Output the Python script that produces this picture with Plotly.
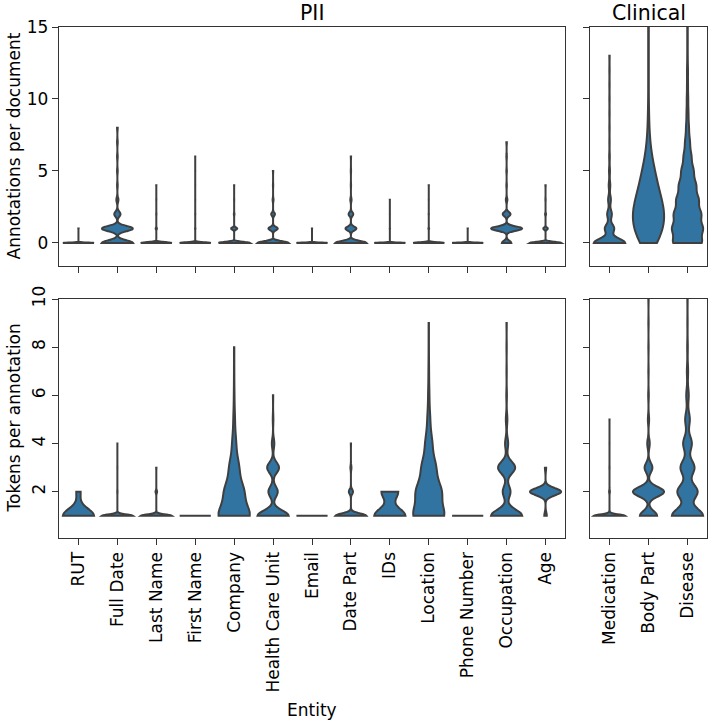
import numpy as np
import plotly.graph_objects as go

# ---------------- data ----------------
pii_entities = ["RUT", "Full Date", "Last Name", "First Name", "Company",
                "Health Care Unit", "Email", "Date Part", "IDs", "Location",
                "Phone Number", "Occupation", "Age"]
clin_entities = ["Medication", "Body Part", "Disease"]

# Annotations per document: number of documents with 0, 1, 2, ... annotations
ann_rut = [990, 10]
ann_full_date = [45, 45, 9, 3, 1, 1, 1, 1, 1]
ann_last_name = [200, 8, 2, 1, 1]
ann_first_name = [300, 4, 2, 1, 1, 1, 1]
ann_company = [200, 40, 4, 1, 1]
ann_hcu = [100, 30, 12, 3, 1, 1]
ann_email = [300, 2]
ann_date_part = [100, 35, 15, 4, 1, 1, 1]
ann_ids = [300, 3, 1, 1]
ann_location = [200, 5, 2, 1, 1]
ann_phone = [300, 2]
ann_occupation = [18, 60, 15, 3, 1, 1, 1, 1]
ann_age = [100, 15, 3, 1, 1]
ann_medication = [100, 30, 15, 9, 5, 3, 2, 1, 1, 1, 1, 1, 1, 1]
ann_body_part = [30, 50, 55, 45, 32, 22, 12, 6, 3, 2, 1, 1, 1, 1, 1, 1, 1, 1, 1]
ann_disease = [60, 62, 55, 45, 35, 25, 16, 10, 6, 4, 3, 2, 2, 1, 1, 1, 1, 1, 1, 1, 1]

# Tokens per annotation: number of annotations with 1, 2, 3, ... tokens
tok_rut = [88, 12]
tok_full_date = [500, 5, 2, 1]
tok_last_name = [200, 10, 2]
tok_first_name = [100]
tok_company = [100, 60, 30, 12, 5, 2, 1, 1]
tok_hcu = [100, 30, 38, 8, 2, 1]
tok_email = [100]
tok_date_part = [150, 20, 5, 1]
tok_ids = [65, 35]
tok_location = [100, 80, 45, 22, 9, 4, 2, 1, 1]
tok_phone = [100]
tok_occupation = [100, 25, 55, 10, 5, 2, 1, 1, 1]
tok_age = [8, 100, 4]
tok_medication = [300, 8, 2, 1, 1]
tok_body_part = [55, 100, 25, 8, 4, 2, 1, 1, 1, 1, 1, 1]
tok_disease = [100, 65, 45, 28, 15, 8, 4, 2, 1, 1, 1, 1, 1, 1]

ann_pii = [ann_rut, ann_full_date, ann_last_name, ann_first_name, ann_company,
           ann_hcu, ann_email, ann_date_part, ann_ids, ann_location, ann_phone,
           ann_occupation, ann_age]
ann_clin = [ann_medication, ann_body_part, ann_disease]
tok_pii = [tok_rut, tok_full_date, tok_last_name, tok_first_name, tok_company,
           tok_hcu, tok_email, tok_date_part, tok_ids, tok_location, tok_phone,
           tok_occupation, tok_age]
tok_clin = [tok_medication, tok_body_part, tok_disease]

# estimated KDE bandwidths
ann_pii_bw = [0.03, 0.18, 0.06, 0.05, 0.08, 0.12, 0.03, 0.14, 0.03, 0.05, 0.03, 0.15, 0.08]
ann_clin_bw = [0.3, 0.7, 0.45]
tok_pii_bw = [0.3, 0.06, 0.06, 0.1, 0.45, 0.22, 0.1, 0.1, 0.3, 0.45, 0.1, 0.25, 0.15]
tok_clin_bw = [0.06, 0.2, 0.3]

ann_ticks = [0, 5, 10, 15]
tok_ticks = [2, 4, 6, 8, 10]

# ---------------- style ----------------
FILL = "#3274a1"
EDGE = "#3f3f3f"
AX = "#333333"
FONT = "DejaVu Sans"
W, H = 708, 722


def expand(counts, start):
    vals = np.arange(start, start + len(counts))
    return np.repeat(vals, counts)


fig = go.Figure()


def add_violins(counts_list, bws, start, xa, ya):
    for i, (c, bw) in enumerate(zip(counts_list, bws)):
        y = expand(c, start)
        kw = {}
        if len(c) > 1:
            kw["bandwidth"] = bw
        fig.add_trace(go.Violin(
            x0=i, y=y, xaxis=xa, yaxis=ya, width=0.8,
            spanmode="hard", scalemode="width", points=False,
            fillcolor=FILL, line=dict(color=EDGE, width=2),
            box=dict(visible=False), meanline=dict(visible=False),
            opacity=1, showlegend=False, hoverinfo="y", **kw))


add_violins(ann_pii, ann_pii_bw, 0, "x", "y")
add_violins(ann_clin, ann_clin_bw, 0, "x2", "y2")
add_violins(tok_pii, tok_pii_bw, 1, "x3", "y3")
add_violins(tok_clin, tok_clin_bw, 1, "x4", "y4")

xl = [59 / W, 565 / W]
xr = [590 / W, 707 / W]
yt = [1 - 266 / H, 1 - 27 / H]
yb = [1 - 538 / H, 1 - 299 / H]

base = dict(showline=True, mirror=True, linecolor=AX, linewidth=1.3,
            ticks="outside", ticklen=6, tickwidth=1.3, tickcolor=AX,
            showgrid=False, zeroline=False, automargin=False,
            tickfont=dict(size=17, color="black", family=FONT))

fig.update_layout(
    width=W, height=H, autosize=False, margin=dict(l=0, r=0, t=0, b=0, pad=0),
    paper_bgcolor="white", plot_bgcolor="white", violinmode="overlay",
    font=dict(family=FONT, color="black"),
    xaxis=dict(base, domain=xl, range=[-0.5, 12.5], anchor="y",
               tickvals=list(range(13)), showticklabels=False),
    xaxis2=dict(base, domain=xr, range=[-0.5, 2.5], anchor="y2",
                tickvals=list(range(3)), showticklabels=False),
    xaxis3=dict(base, domain=xl, range=[-0.5, 12.5], anchor="y3",
                tickvals=list(range(13)), ticktext=pii_entities, tickangle=-90),
    xaxis4=dict(base, domain=xr, range=[-0.5, 2.5], anchor="y4",
                tickvals=list(range(3)), ticktext=clin_entities, tickangle=-90),
    yaxis=dict(base, domain=yt, range=[-1.6, 15], anchor="x", tickvals=ann_ticks),
    yaxis2=dict(base, domain=yt, range=[-1.6, 15], anchor="x2", tickvals=ann_ticks,
                showticklabels=False),
    yaxis3=dict(base, domain=yb, range=[0.08, 10], anchor="x3", tickvals=tok_ticks,
                tickangle=-90),
    yaxis4=dict(base, domain=yb, range=[0.08, 10], anchor="x4", tickvals=tok_ticks,
                showticklabels=False),
)

ann = [
    dict(text="PII", x=312 / W, y=1 - 13 / H, font=dict(size=20.5)),
    dict(text="Clinical", x=648.5 / W, y=1 - 13 / H, font=dict(size=20.5)),
    dict(text="Annotations per document", x=13 / W, y=1 - 146.5 / H,
         textangle=-90, font=dict(size=17)),
    dict(text="Tokens per annotation", x=13 / W, y=1 - 418.5 / H,
         textangle=-90, font=dict(size=17)),
    dict(text="Entity", x=312 / W, y=1 - 710 / H, font=dict(size=17)),
]
for a in ann:
    fig.add_annotation(xref="paper", yref="paper", showarrow=False,
                       xanchor="center", yanchor="middle", **a)

fig.write_html(
    "out.html",
    config={"displayModeBar": False},
    post_script="document.body.style.margin='0';document.body.style.overflow='hidden';",
)
